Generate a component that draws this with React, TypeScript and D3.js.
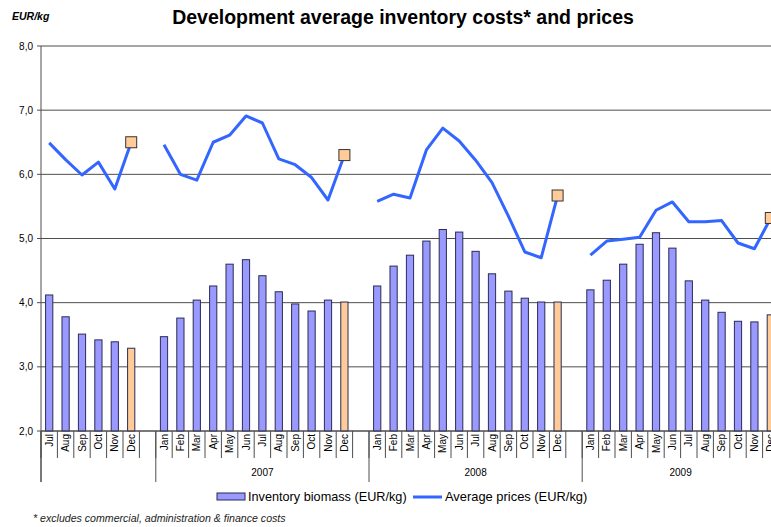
import React from 'react'
import * as d3 from 'd3'

// category axis: Jul 2006 .. Dec 2009, with an empty slot between years
const categories = [
    'Jul', 'Aug', 'Sep', 'Oct', 'Nov', 'Dec', '',
    'Jan', 'Feb', 'Mar', 'Apr', 'May', 'Jun', 'Jul', 'Aug', 'Sep', 'Oct', 'Nov', 'Dec', '',
    'Jan', 'Feb', 'Mar', 'Apr', 'May', 'Jun', 'Jul', 'Aug', 'Sep', 'Oct', 'Nov', 'Dec', '',
    'Jan', 'Feb', 'Mar', 'Apr', 'May', 'Jun', 'Jul', 'Aug', 'Sep', 'Oct', 'Nov', 'Dec',
]

const biomass: (number | null)[] = [
    4.12, 3.78, 3.51, 3.42, 3.39, 3.29, null,
    3.47, 3.76, 4.04, 4.26, 4.60, 4.67, 4.42, 4.17, 3.98, 3.87, 4.04, 4.01, null,
    4.26, 4.57, 4.74, 4.96, 5.14, 5.10, 4.80, 4.45, 4.18, 4.07, 4.01, 4.01, null,
    4.20, 4.35, 4.60, 4.91, 5.09, 4.85, 4.34, 4.04, 3.85, 3.71, 3.70, 3.81,
]

const prices: (number | null)[] = [
    6.49, 6.23, 5.99, 6.19, 5.77, 6.50, null,
    6.46, 6.00, 5.91, 6.50, 6.61, 6.91, 6.80, 6.24, 6.15, 5.95, 5.60, 6.30, null,
    5.58, 5.69, 5.63, 6.38, 6.72, 6.52, 6.22, 5.87, 5.35, 4.79, 4.70, 5.67, null,
    4.74, 4.96, 4.99, 5.02, 5.44, 5.57, 5.26, 5.26, 5.28, 4.93, 4.84, 5.32,
]

// year groups as [label, first category index, end index]
const yearGroups: [string, number, number][] = [
    ['', 0, 7],
    ['2007', 7, 20],
    ['2008', 20, 33],
    ['2009', 33, 45],
]

const yTicks = [2, 3, 4, 5, 6, 7, 8]

const W = 771
const H = 527
const FONT = 'Arial, "Liberation Sans", sans-serif'

export default function App() {
    const left = 41
    const step = 16.4
    const top = 46
    const bottom = 431

    const x = d3.scaleBand<number>()
        .domain(d3.range(categories.length))
        .range([left, left + step * categories.length])
        .padding(0)

    const y = d3.scaleLinear().domain([2, 8]).range([bottom, top])

    const barW = x.bandwidth() * 0.44
    const cx = (i: number) => (x(i) as number) + x.bandwidth() / 2

    const line = d3.line<number | null>()
        .defined(d => d != null)
        .x((d, i) => cx(i))
        .y(d => y(d as number))

    const fmt = (v: number) => d3.format('.1f')(v).replace('.', ',')

    return (
        <svg width={W} height={H} style={{position: 'absolute', left: 0, top: 0, background: '#fff'}} fontFamily={FONT}>
            {/* title */}
            <text x={403} y={24} textAnchor="middle" fontSize={19.5} fontWeight="bold">
                Development average inventory costs* and prices
            </text>
            <text x={12} y={20} fontSize={10.5} fontWeight="bold" fontStyle="italic">EUR/kg</text>

            {/* gridlines and y axis */}
            {yTicks.map(t => (
                <g key={t}>
                    <line x1={left} x2={W} y1={y(t)} y2={y(t)} stroke="#4d4d4d" strokeWidth={1} />
                    <line x1={left - 4} x2={left} y1={y(t)} y2={y(t)} stroke="#4d4d4d" />
                    <text x={left - 8} y={y(t) + 3.5} textAnchor="end" fontSize={10}>{fmt(t)}</text>
                </g>
            ))}
            <line x1={left} x2={left} y1={top} y2={482} stroke="#4d4d4d" />

            {/* bars */}
            {biomass.map((v, i) => v == null ? null : (
                <rect key={i}
                    x={cx(i) - barW / 2}
                    y={y(v)}
                    width={barW}
                    height={bottom - y(v)}
                    fill={categories[i] === 'Dec' ? '#FFCC99' : '#9999FF'}
                    stroke="#2b2b55"
                    strokeWidth={1}
                />
            ))}

            {/* price line */}
            <path d={line(prices) || ''} fill="none" stroke="#3366FF" strokeWidth={3} strokeLinejoin="round" />
            {prices.map((v, i) => v != null && categories[i] === 'Dec' ? (
                <rect key={'m' + i} x={cx(i) - 5.5} y={y(v) - 5.5} width={11} height={11}
                    fill="#FFCC99" stroke="#333" strokeWidth={1} />
            ) : null)}

            {/* x axis */}
            <line x1={left} x2={W} y1={bottom} y2={bottom} stroke="#4d4d4d" />
            {d3.range(categories.length + 1).map(i => (
                <line key={'t' + i} x1={left + i * step} x2={left + i * step} y1={bottom} y2={458} stroke="#4d4d4d" />
            ))}
            {yearGroups.map(([label, s, e]) => (
                <g key={'g' + s}>
                    <line x1={left + s * step} x2={left + s * step} y1={bottom} y2={482} stroke="#4d4d4d" />
                    <text x={left + (s + e) / 2 * step} y={476} textAnchor="middle" fontSize={10}>{label}</text>
                </g>
            ))}
            {categories.map((c, i) => c ? (
                <text key={'c' + i} transform={`translate(${cx(i) + 3.5},${bottom + 3}) rotate(-90)`}
                    textAnchor="end" fontSize={10}>{c}</text>
            ) : null)}

            {/* legend */}
            <rect x={217} y={493} width={28} height={7} fill="#9999FF" stroke="#2b2b55" />
            <text x={248} y={501} fontSize={12.7}>Inventory biomass (EUR/kg)</text>
            <line x1={413} x2={442} y1={497} y2={497} stroke="#3366FF" strokeWidth={3} />
            <text x={445} y={501} fontSize={12.9}>Average prices (EUR/kg)</text>

            {/* footnote */}
            <text x={33} y={522} fontSize={10.6} fontStyle="italic" fill="#222">
                *  excludes commercial, administration &amp; finance costs
            </text>
        </svg>
    )
}
